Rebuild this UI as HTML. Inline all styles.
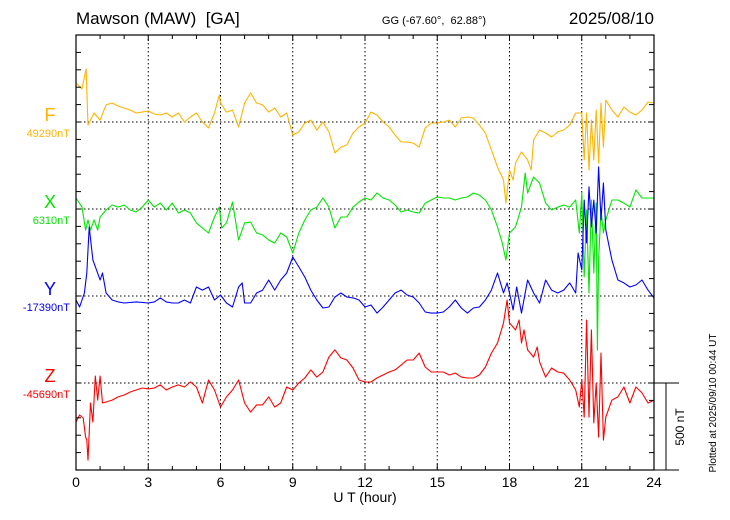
<!DOCTYPE html>
<html><head><meta charset="utf-8"><style>
body{margin:0;background:#fff;}
svg{display:block;font-family:"Liberation Sans",sans-serif;}
</style></head><body>
<svg id="chart" width="730" height="520" viewBox="0 0 730 520" xmlns="http://www.w3.org/2000/svg">
<text x="76" y="24" font-size="17" xml:space="preserve">Mawson (MAW)  [GA]</text>
<text x="434" y="24" font-size="11" text-anchor="middle" xml:space="preserve">GG (-67.60°,  62.88°)</text>
<text x="654" y="24" font-size="17" text-anchor="end">2025/08/10</text>
<g id="grid"></g>
<g id="series"></g>
<rect x="76" y="35" width="578" height="435" fill="none" stroke="#000" stroke-width="1.2"/>
<g id="ticks"></g>
<g id="labels"></g>
<text x="365" y="502" font-size="14" text-anchor="middle">U T (hour)</text>
<g stroke="#000" stroke-width="1">
<line x1="654" y1="383" x2="679" y2="383"/><line x1="666" y1="383" x2="666" y2="470"/><line x1="654" y1="470" x2="679" y2="470"/>
</g>
<text transform="translate(684,427) rotate(-90)" font-size="12" text-anchor="middle">500 nT</text>
<text transform="translate(716,403) rotate(-90)" font-size="10" text-anchor="middle">Plotted at 2025/09/10 00:44 UT</text>
</svg>
<script>
const fHours=[0,0.25,0.42,0.5,0.75,1,1.25,1.5,1.75,2,2.25,2.5,2.75,3,3.25,3.5,3.75,4,4.25,4.5,4.75,5,5.25,5.5,5.75,5.95,6,6.25,6.5,6.75,7,7.25,7.5,7.75,8,8.25,8.5,8.75,9,9.25,9.5,9.75,10,10.25,10.5,10.75,11,11.25,11.5,11.75,12,12.25,12.5,12.75,13,13.25,13.5,13.75,14,14.25,14.5,14.75,15,15.25,15.5,15.75,16,16.25,16.5,16.75,17,17.25,17.5,17.75,17.85,18,18.15,18.25,18.5,18.75,18.9,19,19.25,19.5,19.75,20,20.25,20.5,20.75,21,21.1,21.2,21.3,21.4,21.5,21.6,21.7,21.8,21.9,22,22.25,22.5,22.75,23,23.25,23.5,23.75,24];
const fVals=[224,190,305,-17,52,11,98,109,92,80,69,52,57,63,46,40,52,29,52,0,29,52,0,-34,52,155,109,57,69,-29,109,167,109,98,57,80,29,52,-75,-57,-6,11,-46,0,-57,-178,-144,-132,-63,-29,-6,57,40,0,-29,-75,-115,-115,-121,-144,-34,-6,-6,0,11,-29,23,29,23,-17,-63,-161,-259,-333,-466,-276,-333,-236,-172,-218,-276,-103,-46,-63,-86,-57,-46,-17,52,52,-218,52,-276,11,-218,69,-236,109,-144,126,69,29,86,57,40,69,115,109];
const xHours=[0,0.25,0.4,0.5,0.6,0.75,0.9,1,1.25,1.5,1.75,2,2.25,2.5,2.75,3,3.25,3.5,3.75,4,4.25,4.5,4.75,5,5.25,5.5,5.75,5.95,6.05,6.25,6.5,6.75,7,7.25,7.5,7.75,8,8.25,8.5,8.75,9,9.25,9.5,9.75,10,10.25,10.5,10.75,11,11.25,11.5,11.75,12,12.25,12.5,12.75,13,13.25,13.5,13.75,14,14.25,14.5,14.75,15,15.25,15.5,15.75,16,16.25,16.5,16.75,17,17.25,17.5,17.7,17.85,18,18.25,18.5,18.65,18.75,19,19.25,19.5,19.75,20,20.25,20.5,20.75,20.9,21,21.1,21.2,21.3,21.4,21.5,21.6,21.65,21.7,21.8,21.9,22,22.25,22.5,22.75,23,23.25,23.5,23.75,24];
const xVals=[63,11,-121,-63,-121,-63,-121,-46,-6,23,11,23,-6,-17,11,52,11,34,-6,34,-23,-6,-23,-80,-109,-138,-46,11,-109,-80,40,-178,-80,-75,-138,-149,-178,-196,-138,-161,-253,-138,-63,-6,11,63,11,-109,-46,-46,11,40,63,52,92,63,52,23,-17,-6,-17,-23,34,52,69,63,63,52,63,69,92,80,52,-6,-103,-196,-293,-138,-103,11,207,92,184,149,34,-6,11,23,11,52,-138,92,-391,-6,-483,52,-368,34,-811,-293,-6,-138,-63,52,52,34,11,109,63,63,63];
const yHours=[0,0.15,0.35,0.45,0.55,0.7,0.85,1,1.1,1.25,1.5,1.75,2,2.5,3,3.25,3.5,3.75,4,4.25,4.5,4.75,5,5.25,5.5,5.75,6,6.25,6.5,6.75,6.9,7,7.25,7.5,7.75,8,8.25,8.5,8.75,9,9.25,9.5,9.75,10,10.25,10.5,10.75,11,11.25,11.5,11.75,12,12.25,12.5,12.75,13,13.25,13.5,13.75,14,14.25,14.5,14.75,15,15.25,15.5,15.75,16,16.25,16.5,16.75,17,17.25,17.5,17.75,17.9,18,18.15,18.3,18.5,18.75,19,19.25,19.5,19.75,20,20.25,20.5,20.75,20.85,21,21.1,21.2,21.3,21.4,21.5,21.6,21.7,21.8,21.9,22,22.25,22.5,22.75,23,23.25,23.5,23.75,24];
const yVals=[-23,-63,17,132,397,207,150,92,132,17,-23,-34,-40,-34,-40,-34,-11,-34,-40,-40,-23,-40,52,34,52,-23,6,-40,-63,52,75,-40,-40,17,34,92,34,92,132,224,167,109,34,-23,-69,-63,-6,17,-6,-11,-23,-63,-52,-98,-63,-23,17,34,6,-6,-40,-92,-98,-98,-92,-63,-23,-69,-98,-69,-63,-23,34,132,17,75,17,-80,52,-98,92,17,-40,92,34,17,34,75,17,247,150,552,305,627,397,552,362,742,437,650,380,207,92,75,52,63,92,34,-11];
const zHours=[0,0.15,0.3,0.4,0.45,0.5,0.6,0.7,0.8,0.9,1,1.1,1.25,1.5,1.75,2,2.25,2.5,2.75,3,3.25,3.5,3.75,4,4.25,4.5,4.75,5,5.25,5.5,5.75,6,6.25,6.5,6.75,7,7.25,7.5,7.75,8,8.25,8.5,8.75,9,9.25,9.5,9.75,10,10.25,10.5,10.75,11,11.25,11.5,11.75,12,12.25,12.5,12.75,13,13.25,13.5,13.75,14,14.25,14.5,14.75,15,15.25,15.5,15.75,16,16.25,16.5,16.75,17,17.25,17.5,17.75,17.9,18,18.25,18.4,18.5,18.6,18.75,19,19.15,19.25,19.5,19.75,20,20.25,20.5,20.75,20.9,21,21.1,21.2,21.3,21.4,21.5,21.6,21.7,21.8,21.9,22,22.25,22.5,22.75,23,23.25,23.5,23.75,24];
const zVals=[-224,-184,-201,-311,-328,-443,-115,-224,40,-98,40,-115,-109,-98,-80,-69,-52,-40,-29,-34,-29,-11,-40,-23,-11,-23,6,-23,-115,17,-40,-138,-80,-40,17,-115,-167,-126,-126,-80,-138,-115,-23,-40,0,29,75,34,63,149,190,144,132,86,17,6,6,29,46,63,75,103,132,132,172,92,63,63,63,46,57,34,29,29,46,92,172,230,345,477,345,305,362,230,305,190,149,207,121,34,86,63,57,17,-40,-138,17,-196,362,-196,305,-230,0,-311,172,-328,-196,-98,-80,-23,-115,-23,-57,-115,-98];
const baselines=[122,209,296,383];
const seriesNames=['F','X','Y','Z'];
const baseLabels=['49290nT','6310nT','-17390nT','-45690nT'];
const colors=['#FFB400','#00E600','#0000FF','#FF0000'];
const hourTicks=[0,3,6,9,12,15,18,21,24];
const NS='http://www.w3.org/2000/svg';
const x0=76,x1=654,yTop=35,yBot=470,kpx=87/500;
const xs=h=>x0+(x1-x0)*h/24;
const ys=(v,i)=>baselines[i]-v*kpx;
function mk(tag,attrs,parent){const e=document.createElementNS(NS,tag);for(const k in attrs)e.setAttribute(k,attrs[k]);parent.appendChild(e);return e;}
const grid=document.getElementById('grid'),ser=document.getElementById('series'),tk=document.getElementById('ticks'),lb=document.getElementById('labels');
for(const h of hourTicks){if(h===0||h===24)continue;
 const l=mk('line',{x1:xs(h),x2:xs(h),y1:yTop,y2:yBot,stroke:'#000','stroke-width':1,'stroke-dasharray':'1.5,2.5'},grid);
 
 }
baselines.forEach((b,i)=>{
 const l=mk('line',{x1:x0,x2:x1,y1:b,y2:b,stroke:'#000','stroke-width':1,'stroke-dasharray':'1.5,2.5'},grid);
 
 
 const t=mk('text',{x:50,y:b-1,'font-size':18,'text-anchor':'middle',fill:colors[i]},lb);t.textContent=seriesNames[i];
 
 
 const t2=mk('text',{x:70,y:b+15,'font-size':11,'text-anchor':'end',fill:colors[i]},lb);t2.textContent=baseLabels[i];
 
 
});
const sets=[[fHours,fVals],[xHours,xVals],[yHours,yVals],[zHours,zVals]];
sets.forEach((s,i)=>{
 const pts=s[0].map((h,j)=>xs(h).toFixed(1)+','+ys(s[1][j],i).toFixed(1)).join(' ');
 const p=mk('polyline',{points:pts,fill:'none',stroke:colors[i],'stroke-width':1.1,'stroke-linejoin':'round'},ser);
 
 
});
for(let k=-5;k<=20;k++){const y=383-k*87/5;
 mk('line',{x1:x0,x2:x0+5,y1:y,y2:y,stroke:'#000'},tk);
 mk('line',{x1:x1-5,x2:x1,y1:y,y2:y,stroke:'#000'},tk);}
for(let h=0;h<=24;h++){const x=xs(h),maj=h%3===0;
 mk('line',{x1:x,x2:x,y1:yTop,y2:yTop+(maj?6:4),stroke:'#000'},tk);
 mk('line',{x1:x,x2:x,y1:yBot,y2:yBot-(maj?6:4),stroke:'#000'},tk);}
hourTicks.forEach(h=>{const t=mk('text',{x:xs(h),y:487,'font-size':14,'text-anchor':'middle'},lb);t.textContent=h;
 
 });
</script>
</body></html>
